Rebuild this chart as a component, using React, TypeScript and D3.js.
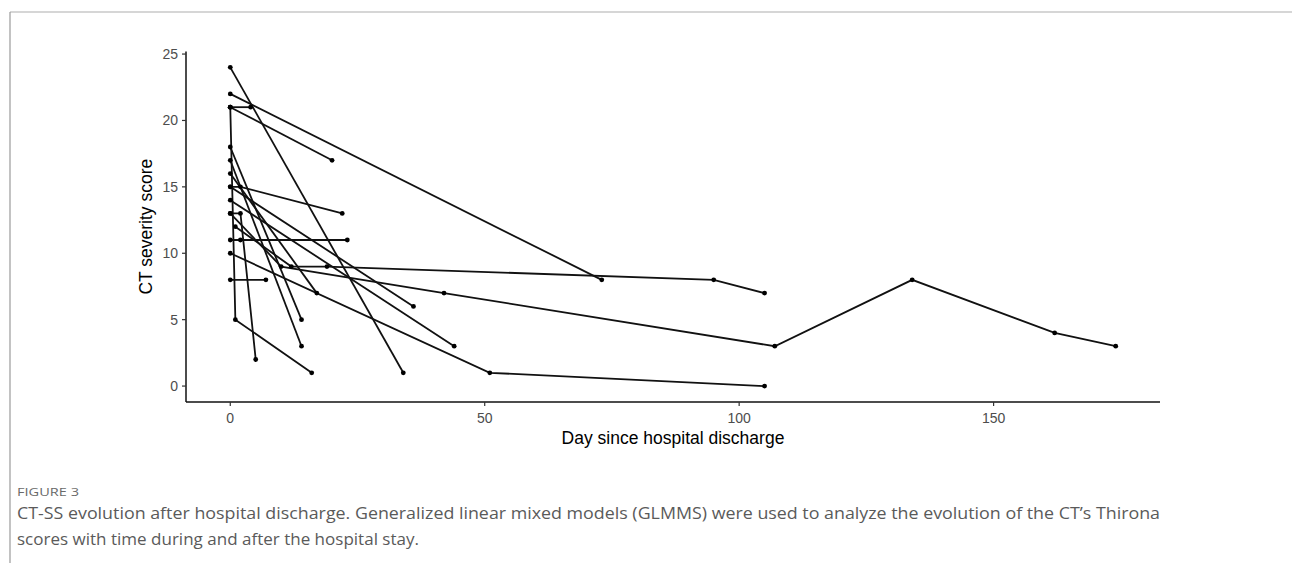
import React, { useEffect } from 'react';
import * as d3 from 'd3';

const W = 1292;
const H = 563;

// Each patient: days since discharge and CT severity scores
const seriesDays: number[][] = [
  [0, 34],
  [0, 73],
  [0, 4],
  [0, 20],
  [0, 1, 16],
  [0, 14],
  [0, 14],
  [0, 17],
  [0, 2, 22],
  [0, 36],
  [0, 44],
  [0, 2, 5],
  [0, 10, 42, 107, 134, 162, 174],
  [1, 12, 19, 95, 105],
  [0, 2, 23],
  [0, 51, 105],
  [0, 7],
];
const seriesScores: number[][] = [
  [24, 1],
  [22, 8],
  [21, 21],
  [21, 17],
  [21, 5, 1],
  [18, 5],
  [17, 3],
  [16, 7],
  [15, 15, 13],
  [15, 6],
  [14, 3],
  [13, 13, 2],
  [13, 9, 7, 3, 8, 4, 3],
  [12, 9, 9, 8, 7],
  [11, 11, 11],
  [10, 1, 0],
  [8, 8],
];

const xTicks = [0, 50, 100, 150];
const yTicks = [0, 5, 10, 15, 20, 25];
const xTitle = 'Day since hospital discharge';
const yTitle = 'CT severity score';
const figureLabel = 'FIGURE 3';
const captionLines = [
  'CT-SS evolution after hospital discharge. Generalized linear mixed models (GLMMS) were used to analyze the evolution of the CT\u2019s Thirona',
  'scores with time during and after the hospital stay.',
];

export default function App() {
  useEffect(() => {
    document.body.style.margin = '0';
  }, []);

  const left = 186, right = 1160, top = 51.4, bottom = 402;
  const x = d3.scaleLinear().domain([-8.7, 182.7]).range([left, right]);
  const y = d3.scaleLinear().domain([-1.2, 25.2]).range([bottom, top]);
  const line = d3
    .line<[number, number]>()
    .x((d) => x(d[0]))
    .y((d) => y(d[1]));

  const series = seriesDays.map((ds, i) =>
    ds.map((d, j) => [d, seriesScores[i][j]] as [number, number])
  );

  const tickFont = '"Liberation Sans", Arial, sans-serif';
  const capFont = '"Open Sans", "Noto Sans", sans-serif';

  return (
    <div style={{ position: 'absolute', left: 0, top: 0 }}>
      <svg width={W} height={H} style={{ display: 'block', background: '#fff' }}>
        {/* frame */}
        <line x1={10} y1={12} x2={W} y2={12} stroke="#c8c8c8" strokeWidth={1.5} />
        <line x1={10} y1={12} x2={10} y2={H} stroke="#9a9a9a" strokeWidth={1.2} />

        {/* lines */}
        {series.map((s, i) => (
          <path key={'l' + i} d={line(s) || ''} fill="none" stroke="#111" strokeWidth={1.8} />
        ))}
        {series.map((s, i) =>
          s.map((p, j) => (
            <circle key={'p' + i + '-' + j} cx={x(p[0])} cy={y(p[1])} r={2.4} fill="#000" />
          ))
        )}

        {/* axes */}
        <line x1={left} y1={top} x2={left} y2={bottom} stroke="#111" strokeWidth={1.5} />
        <line x1={left} y1={bottom} x2={right} y2={bottom} stroke="#111" strokeWidth={1.5} />
        {yTicks.map((t) => (
          <g key={'yt' + t}>
            <line x1={left - 4} x2={left} y1={y(t)} y2={y(t)} stroke="#333" strokeWidth={1.2} />
            <text
              x={left - 8}
              y={y(t)}
              dy="0.35em"
              textAnchor="end"
              fontFamily={tickFont}
              fontSize={14}
              fill="#4d4d4d"
            >
              {t}
            </text>
          </g>
        ))}
        {xTicks.map((t) => (
          <g key={'xt' + t}>
            <line x1={x(t)} x2={x(t)} y1={bottom} y2={bottom + 4} stroke="#333" strokeWidth={1.2} />
            <text
              x={x(t)}
              y={bottom + 16}
              dy="0.35em"
              textAnchor="middle"
              fontFamily={tickFont}
              fontSize={14}
              fill="#4d4d4d"
            >
              {t}
            </text>
          </g>
        ))}
        <text
          x={(left + right) / 2}
          y={444}
          textAnchor="middle"
          fontFamily={tickFont}
          fontSize={17.5}
          fill="#000"
        >
          {xTitle}
        </text>
        <text
          transform={`translate(152, ${(top + bottom) / 2}) rotate(-90)`}
          textAnchor="middle"
          fontFamily={tickFont}
          fontSize={17.5}
          fill="#000"
        >
          {yTitle}
        </text>

        {/* caption */}
        <text x={17} y={496} fontFamily={capFont} fontSize={11.5} fill="#6a6a6a" textLength={62} lengthAdjust="spacingAndGlyphs">
          {figureLabel}
        </text>
        <text x={17} y={519} fontFamily={capFont} fontSize={15.5} fill="#5a5a5a" textLength={1143} lengthAdjust="spacingAndGlyphs">
          {captionLines[0]}
        </text>
        <text x={17} y={545} fontFamily={capFont} fontSize={15.5} fill="#5a5a5a" textLength={402} lengthAdjust="spacingAndGlyphs">
          {captionLines[1]}
        </text>
      </svg>
    </div>
  );
}
